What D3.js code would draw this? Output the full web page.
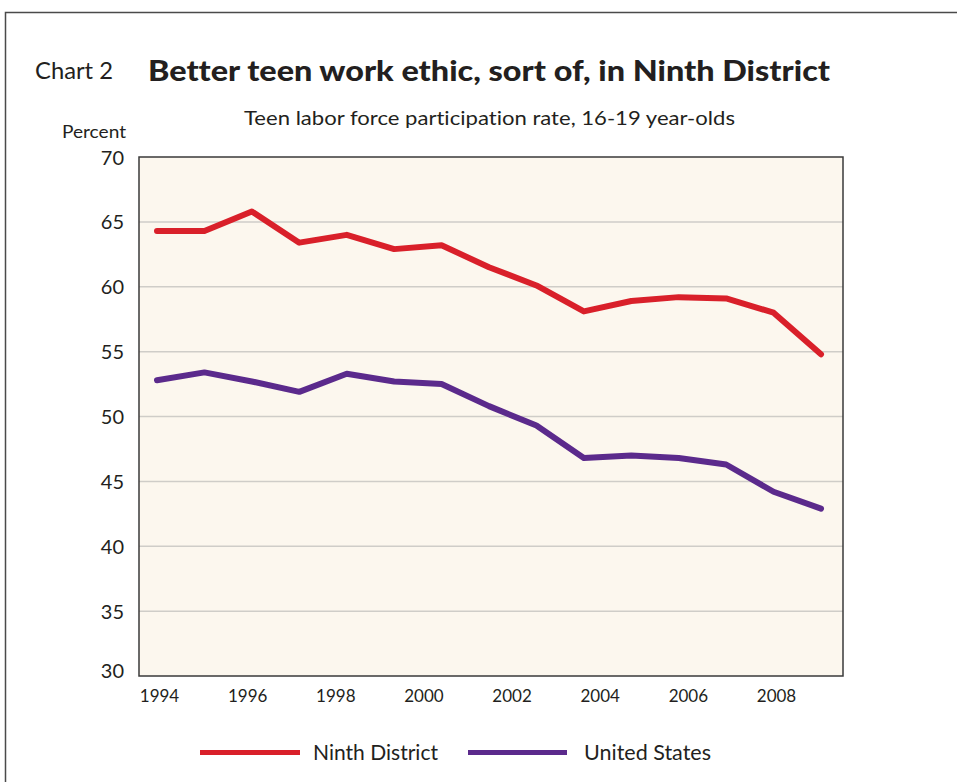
<!DOCTYPE html>
<html>
<head>
<meta charset="utf-8">
<script src="https://cdn.jsdelivr.net/npm/d3@7"></script>
<style>
  html, body { margin: 0; padding: 0; background: #ffffff; }
  svg { display: block; }
  text { fill: #231f20; font-variant-ligatures: none; font-feature-settings: "liga" 0; }
</style>
</head>
<body>
<svg id="chart" width="957" height="782"></svg>
<script>
// ---- data ----
const years = ["1994","1995","1996","1997","1998","1999","2000","2001","2002","2003","2004","2005","2006","2007","2008"];
const ninthDistrict = [64.3, 64.3, 65.8, 63.4, 64.0, 62.9, 63.2, 61.5, 60.1, 58.1, 58.9, 59.2, 59.1, 58.0, 54.8];
const unitedStates  = [52.8, 53.4, 52.7, 51.9, 53.3, 52.7, 52.5, 50.8, 49.3, 46.8, 47.0, 46.8, 46.3, 44.2, 42.9];
const xTickLabels = [1994, 1996, 1998, 2000, 2002, 2004, 2006, 2008];
const yTicks = [30, 35, 40, 45, 50, 55, 60, 65, 70];
const seriesNames = ["Ninth District", "United States"];
const seriesColors = ["#d9202a", "#5b2a8c"];

const svg = d3.select("#chart");

// outer frame (top and left edges)
svg.append("path")
  .attr("d", "M5.5,782 L5.5,12.5 L957,12.5")
  .attr("fill", "none").attr("stroke", "#4a4a4a").attr("stroke-width", 1.5);

const plot = { left: 139, right: 843, top: 157, bottom: 676 };

const y = d3.scaleLinear().domain([30, 70]).range([plot.bottom, plot.top]);
const x = d3.scalePoint().domain(years).range([157, 821]);
const xAxisScale = d3.scaleLinear().domain([1994, 2008]).range([159, 776]);

// plot background
svg.append("rect")
  .attr("x", plot.left).attr("y", plot.top)
  .attr("width", plot.right - plot.left).attr("height", plot.bottom - plot.top)
  .attr("fill", "#fcf7ee");

// gridlines
svg.append("g").selectAll("line")
  .data(yTicks.filter(d => d > 30 && d < 70))
  .join("line")
  .attr("x1", plot.left).attr("x2", plot.right)
  .attr("y1", d => y(d)).attr("y2", d => y(d))
  .attr("stroke", "#cfcdc8").attr("stroke-width", 1.5);

// box border
svg.append("rect")
  .attr("x", plot.left).attr("y", plot.top)
  .attr("width", plot.right - plot.left).attr("height", plot.bottom - plot.top)
  .attr("fill", "none").attr("stroke", "#3a3a3a").attr("stroke-width", 1.5);

// y axis labels
const yAxis = d3.axisLeft(y).tickValues(yTicks).tickSize(0).tickPadding(0);
const gy = svg.append("g").attr("transform", `translate(124,0)`).call(yAxis);
gy.select(".domain").remove();
gy.selectAll("text")
  .attr("font-family", "Lato, 'Open Sans', sans-serif")
  .attr("font-size", 20).attr("fill", "#231f20").attr("dy", "0.35em");
gy.selectAll(".tick").filter(d => d === 30).select("text").attr("dy", "0.05em");

// x axis labels
const xAxis = d3.axisBottom(xAxisScale).tickValues(xTickLabels).tickFormat(d3.format("d")).tickSize(0).tickPadding(0);
const gx = svg.append("g").attr("transform", `translate(0,688)`).call(xAxis);
gx.select(".domain").remove();
gx.selectAll("text")
  .attr("font-family", "Lato, 'Open Sans', sans-serif")
  .attr("font-size", 17).attr("fill", "#231f20").attr("dy", "0.8em");

// lines
const line = d3.line().x((d, i) => x(years[i])).y(d => y(d));
[ninthDistrict, unitedStates].forEach((s, k) => {
  svg.append("path")
    .datum(s)
    .attr("d", line)
    .attr("fill", "none")
    .attr("stroke", seriesColors[k])
    .attr("stroke-width", 6)
    .attr("stroke-linejoin", "round")
    .attr("stroke-linecap", "round");
});

// titles
svg.append("text").attr("x", 35).attr("y", 79)
  .attr("font-family", "Lato, sans-serif").attr("font-size", 23)
  .attr("textLength", 78).attr("lengthAdjust", "spacingAndGlyphs")
  .text("Chart 2");
svg.append("text").attr("x", 148).attr("y", 81)
  .attr("font-family", "Lato, sans-serif").attr("font-weight", 900).attr("font-size", 29)
  .attr("textLength", 682).attr("lengthAdjust", "spacingAndGlyphs")
  .text("Better teen work ethic, sort of, in Ninth District");
svg.append("text").attr("x", 244).attr("y", 125)
  .attr("font-family", "Lato, sans-serif").attr("font-size", 19)
  .attr("textLength", 491).attr("lengthAdjust", "spacingAndGlyphs")
  .text("Teen labor force participation rate, 16-19 year-olds");
svg.append("text").attr("x", 62).attr("y", 138)
  .attr("font-family", "Lato, sans-serif").attr("font-size", 17)
  .attr("textLength", 64).attr("lengthAdjust", "spacingAndGlyphs")
  .text("Percent");

// legend
const legend = [
  { x1: 200, x2: 300, tx: 313, tw: 125 },
  { x1: 468, x2: 567, tx: 584, tw: 127 }
];
legend.forEach((l, k) => {
  svg.append("line")
    .attr("x1", l.x1).attr("x2", l.x2).attr("y1", 752.5).attr("y2", 752.5)
    .attr("stroke", seriesColors[k]).attr("stroke-width", 5);
  svg.append("text").attr("x", l.tx).attr("y", 760)
    .attr("font-family", "Lato, sans-serif").attr("font-size", 21)
    .attr("textLength", l.tw).attr("lengthAdjust", "spacingAndGlyphs")
    .text(seriesNames[k]);
});
</script>
</body>
</html>
